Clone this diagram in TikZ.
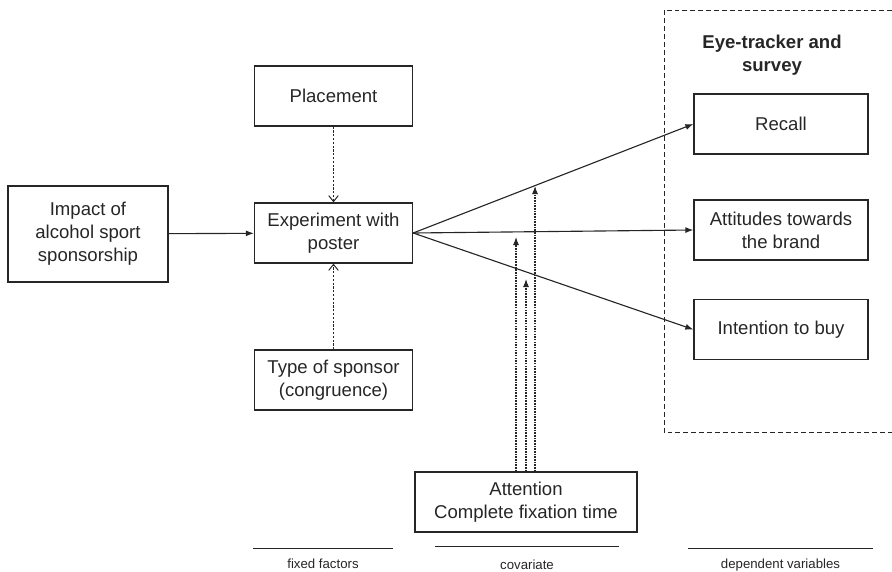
\documentclass[tikz,border=0pt]{standalone}
\usepackage{fontspec}
\setmainfont{Liberation Sans}
\usetikzlibrary{arrows.meta}
\tikzset{
    block/.style={draw, line width=0.9pt, align=center, inner sep=2pt,
        minimum height=1.5cm, font=\fontsize{13.2}{16.3}\selectfont},
    flow/.style={-{Latex[length=2mm,width=1.5mm]}, line width=0.8pt},
    factor/.style={-{Straight Barb[length=1.5mm,width=2.4mm]}, line width=0.7pt,
        dash pattern=on 1.6pt off 1.1pt},
    covar/.style={-{Latex[length=2mm,width=1.5mm]}, line width=0.75pt,
        dash pattern=on 1.1pt off 0.8pt},
    groupbox/.style={line width=0.7pt, dash pattern=on 3.4pt off 2.2pt},
    legend/.style={font=\fontsize{9.4}{11}\selectfont}
}
\begin{document}
\begin{tikzpicture}[x=0.025cm, y=-0.025cm, color=black!85]
            \useasboundingbox (0, 0) rectangle (892, 571);

            \draw[groupbox] (892, 10) -- (664, 10) -- (664, 432) -- (892, 432);
            \node[align=center, font=\fontsize{13.2}{16.3}\selectfont\bfseries] (title) at (772, 55) {Eye-tracker and\\survey};

            \node[block, minimum width=4cm, minimum height=2.4cm] (impact) at (88, 234) {Impact of\\alcohol sport\\sponsorship};
            \node[block, minimum width=3.95cm] (exp) at (333.5, 233) {Experiment with\\poster};
            \node[block, minimum width=3.95cm] (place) at (333.5, 96) {Placement};
            \node[block, minimum width=3.95cm] (type) at (333.5, 380) {Type of sponsor\\(congruence)};
            \node[block, minimum width=5.55cm] (attn) at (526, 502) {Attention\\Complete fixation time};

            \node[block, minimum width=4.35cm] (recall) at (781, 124) {Recall};
            \node[block, minimum width=4.35cm] (attit) at (781, 230) {Attitudes towards\\the brand};
            \node[block, minimum width=4.35cm] (intent) at (781, 329.5) {Intention to buy};

            \draw[flow] (impact) -- (exp);
            \draw[factor] (place) -- (exp);
            \draw[factor] (type) -- (exp);
            \draw[flow] (exp.east) -- (recall.west);
            \draw[flow] (exp.east) -- (attit.west);
            \draw[flow] (exp.east) -- (intent.west);

            \coordinate (tipA) at (516, 237);
            \coordinate (tipB) at (526, 279);
            \coordinate (tipC) at (535, 186);
            \draw[covar] (attn.north -| tipA) -- (tipA);
            \draw[covar] (attn.north -| tipB) -- (tipB);
            \draw[covar] (attn.north -| tipC) -- (tipC);

            \draw[line width=0.7pt] (253, 548) -- (393, 548) node[legend, midway, below=4pt] (fixed) {fixed factors};
            \draw[line width=0.7pt] (435, 546) -- (619, 546) node[legend, midway, below=6pt] (cov) {covariate};
            \draw[line width=0.7pt] (688, 548) -- (873, 548) node[legend, midway, below=4pt] (dep) {dependent variables};
        \end{tikzpicture}
\end{document}
